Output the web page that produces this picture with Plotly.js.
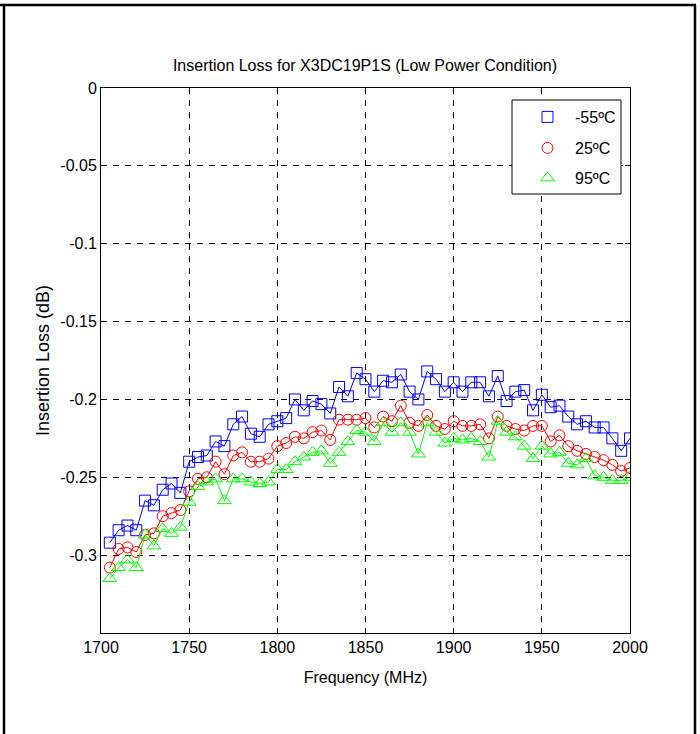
<!DOCTYPE html>
<html>
<head>
<meta charset="utf-8">
<script src="https://cdn.plot.ly/plotly-3.0.1.min.js"></script>
<style>html,body{margin:0;padding:0;background:#fff;}#chart{width:700px;height:734px;}</style>
</head>
<body>
<div id="chart"></div>
<script>
// Frequency points (MHz)
const freq = [1705,1710,1715,1720,1725,1730,1735,1740,1745,1750,1755,1760,1765,1770,1775,1780,1785,1790,1795,1800,
  1805,1810,1815,1820,1825,1830,1835,1840,1845,1850,1855,1860,1865,1870,1875,1880,1885,1890,1895,1900,
  1905,1910,1915,1920,1925,1930,1935,1940,1945,1950,1955,1960,1965,1970,1975,1980,1985,1990,1995,2000];

// Insertion loss (dB) at -55 ºC
const lossM55 = [-0.292,-0.284,-0.281,-0.284,-0.265,-0.268,-0.258,-0.254,-0.260,-0.240,-0.237,-0.236,-0.227,-0.230,-0.216,-0.211,-0.222,-0.224,-0.216,-0.214,
  -0.212,-0.200,-0.207,-0.201,-0.203,-0.209,-0.192,-0.198,-0.183,-0.187,-0.195,-0.188,-0.189,-0.184,-0.195,-0.200,-0.182,-0.187,-0.195,-0.189,
  -0.195,-0.189,-0.189,-0.198,-0.185,-0.201,-0.195,-0.194,-0.207,-0.197,-0.205,-0.204,-0.211,-0.216,-0.214,-0.218,-0.218,-0.225,-0.233,-0.225];

// Insertion loss (dB) at 25 ºC
const loss25 = [-0.308,-0.296,-0.295,-0.298,-0.287,-0.286,-0.275,-0.273,-0.271,-0.259,-0.251,-0.250,-0.240,-0.248,-0.236,-0.234,-0.240,-0.240,-0.238,-0.230,
  -0.228,-0.224,-0.225,-0.221,-0.220,-0.226,-0.213,-0.213,-0.213,-0.212,-0.218,-0.211,-0.214,-0.204,-0.215,-0.217,-0.210,-0.217,-0.219,-0.214,
  -0.217,-0.217,-0.216,-0.225,-0.211,-0.217,-0.219,-0.220,-0.217,-0.217,-0.227,-0.223,-0.230,-0.233,-0.235,-0.237,-0.239,-0.242,-0.246,-0.244];

// Insertion loss (dB) at 95 ºC
const loss95 = [-0.315,-0.308,-0.303,-0.308,-0.287,-0.294,-0.283,-0.286,-0.282,-0.266,-0.256,-0.253,-0.251,-0.265,-0.251,-0.251,-0.253,-0.254,-0.253,-0.245,
  -0.245,-0.240,-0.237,-0.234,-0.233,-0.241,-0.234,-0.227,-0.220,-0.221,-0.227,-0.215,-0.221,-0.215,-0.221,-0.235,-0.215,-0.221,-0.228,-0.225,
  -0.226,-0.225,-0.227,-0.237,-0.214,-0.221,-0.224,-0.230,-0.238,-0.230,-0.235,-0.234,-0.241,-0.242,-0.238,-0.249,-0.250,-0.252,-0.252,-0.250];

const seriesNames = ['-55ºC', '25ºC', '95ºC'];
const xTicks = [1700, 1750, 1800, 1850, 1900, 1950, 2000];
const yTickVals = [0, -0.05, -0.1, -0.15, -0.2, -0.25, -0.3, -0.35];
const yTickText = ['0', '-0.05', '-0.1', '-0.15', '-0.2', '-0.25', '-0.3', ''];

const FONT = 'Liberation Sans, Arial, sans-serif';
const colors = ['#0000ff', '#ff0000', '#00ff00'];
const symbols = ['square-open', 'circle-open', 'triangle-up-open'];
const sizes = [11, 11, 12];
const ys = [lossM55, loss25, loss95];
const legendIds = ['legend', 'legend2', 'legend3'];

const traces = [];
ys.forEach((y, i) => {
  traces.push({
    x: freq, y: y, type: 'scatter', mode: 'lines+markers',
    line: {color: colors[i], width: 1},
    marker: {symbol: symbols[i], size: sizes[i], color: colors[i], line: {width: 1}},
    showlegend: false, hoverinfo: 'skip'
  });
});
// legend-only entries (marker only, as in the reference)
ys.forEach((y, i) => {
  traces.push({
    x: [null], y: [null], type: 'scatter', mode: 'markers', name: seriesNames[i],
    marker: {symbol: symbols[i], size: sizes[i], color: colors[i], line: {width: 1}},
    legend: legendIds[i], showlegend: true
  });
});

// geometry helpers (pixel -> paper), plot area 101..630 x 88..633
const L = 101, R = 630, T = 88, B = 633;
const px = v => (v - L) / (R - L);
const py = v => (B - v) / (B - T);

const legendBase = {bgcolor: 'rgba(0,0,0,0)', borderwidth: 0, font: {family: FONT, size: 16, color: '#000'},
  xanchor: 'left', yanchor: 'middle', x: px(520), itemwidth: 45};

const layout = {
  width: 700, height: 734,
  paper_bgcolor: '#fff', plot_bgcolor: '#fff',
  margin: {l: L, r: 700 - R, t: T, b: 734 - B, pad: 0},
  font: {family: FONT, size: 15, color: '#000'},
  title: {text: 'Insertion Loss for X3DC19P1S (Low Power Condition)', font: {family: FONT, size: 16, color: '#000'},
    x: px(365), xref: 'paper', xanchor: 'center', y: 1 - 65 / 734, yref: 'container', yanchor: 'middle'},
  xaxis: {
    range: [1700, 2000], tickvals: xTicks, ticks: 'inside', ticklen: 5, tickcolor: '#000',
    showline: true, linecolor: '#000', linewidth: 1, mirror: 'ticks',
    showgrid: true, gridcolor: '#000', gridwidth: 1, griddash: '6px,6px',
    zeroline: false, tickfont: {family: FONT, size: 16, color: '#000'},
    title: {text: 'Frequency (MHz)', font: {family: FONT, size: 16, color: '#000'}, standoff: 16}
  },
  yaxis: {
    range: [-0.35, 0], tickvals: yTickVals, ticktext: yTickText, ticks: 'inside', ticklen: 5, tickcolor: '#000',
    showline: true, linecolor: '#000', linewidth: 1, mirror: 'ticks',
    showgrid: true, gridcolor: '#000', gridwidth: 1, griddash: '6px,6px',
    zeroline: false, tickfont: {family: FONT, size: 16, color: '#000'},
    title: {text: 'Insertion Loss (dB)', font: {family: FONT, size: 18, color: '#000'}, standoff: 6}
  },
  legend: Object.assign({}, legendBase, {y: py(117)}),
  legend2: Object.assign({}, legendBase, {y: py(148)}),
  legend3: Object.assign({}, legendBase, {y: py(178)}),
  shapes: [
    // legend box
    {type: 'rect', xref: 'paper', yref: 'paper', x0: px(512), x1: px(621), y0: py(194), y1: py(100),
      line: {color: '#000', width: 1}, fillcolor: '#fff', layer: 'above'},
    // outer frame
    {type: 'line', xref: 'paper', yref: 'paper', x0: px(-5), x1: px(696), y0: py(5), y1: py(5), line: {color: '#000', width: 2.5}},
    {type: 'line', xref: 'paper', yref: 'paper', x0: px(4), x1: px(4), y0: py(5), y1: py(740), line: {color: '#000', width: 2.5}},
    {type: 'line', xref: 'paper', yref: 'paper', x0: px(695), x1: px(695), y0: py(5), y1: py(740), line: {color: '#000', width: 2.5}}
  ],
  showlegend: true
};

Plotly.newPlot('chart', traces, layout, {displayModeBar: false, staticPlot: true});
</script>
</body>
</html>
